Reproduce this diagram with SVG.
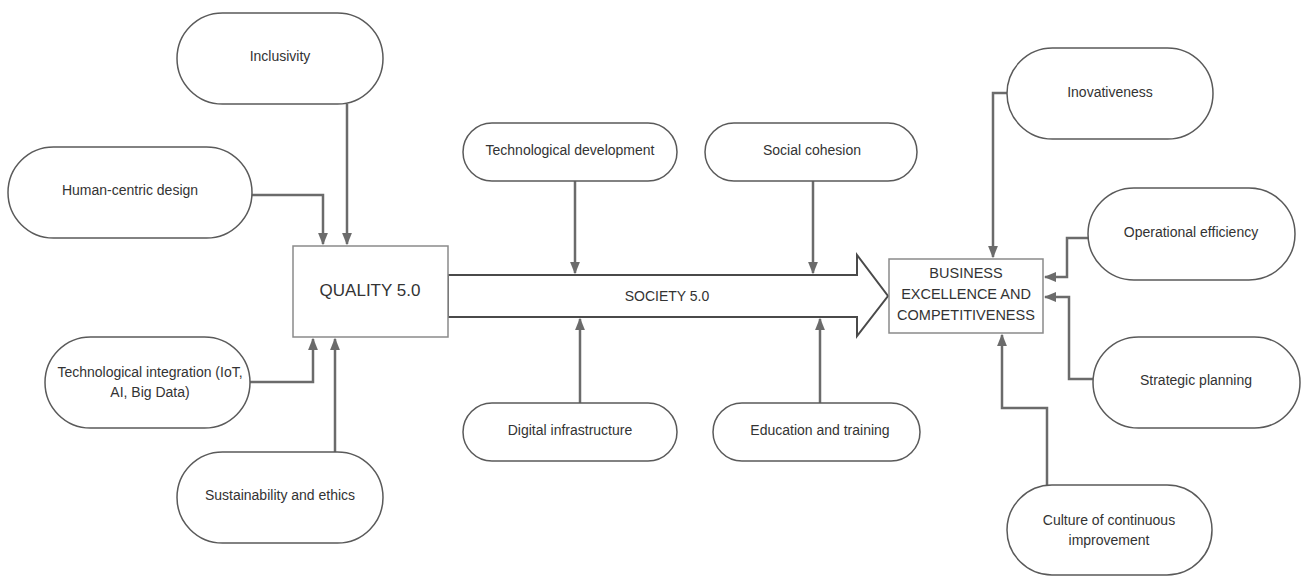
<svg xmlns="http://www.w3.org/2000/svg" width="1307" height="576" viewBox="0 0 1307 576">
<defs>
<style>
.node{fill:#fff;stroke:#5a5a5a;stroke-width:1.5}
.box{fill:#fff;stroke:#8a8a8a;stroke-width:1.5}
.t{font-family:"Liberation Sans",Arial,sans-serif;font-size:14px;fill:#333;text-anchor:middle;dominant-baseline:central}
.conn{fill:none;stroke:#6b6b6b;stroke-width:2.5}
</style>
<marker id="ah" viewBox="0 0 10 10" refX="9" refY="5" markerWidth="5" markerHeight="5" orient="auto" markerUnits="strokeWidth">
<path d="M0,1 L10,5 L0,9 Z" fill="#6b6b6b"/>
</marker>
</defs>
<rect width="1307" height="576" fill="#fff"/>

<g id="society">
<path d="M448,275 L857,275 L857,255 L888,296 L857,336 L857,317 L448,317 Z" fill="#fff" stroke="#4a4a4a" stroke-width="2"/>
<text class="t" x="667" y="296">SOCIETY 5.0</text>
</g>

<g id="connectors">
<path class="conn" d="M252,195 L323,195 L323,244" marker-end="url(#ah)"/>
<path class="conn" d="M347,104 L347,244" marker-end="url(#ah)"/>
<path class="conn" d="M250,382 L313,382 L313,339" marker-end="url(#ah)"/>
<path class="conn" d="M335,452 L335,339" marker-end="url(#ah)"/>
<path class="conn" d="M575,181 L575,273" marker-end="url(#ah)"/>
<path class="conn" d="M813,181 L813,273" marker-end="url(#ah)"/>
<path class="conn" d="M580,403 L580,319" marker-end="url(#ah)"/>
<path class="conn" d="M820,403 L820,319" marker-end="url(#ah)"/>
<path class="conn" d="M1007,93 L993,93 L993,257" marker-end="url(#ah)"/>
<path class="conn" d="M1088,238 L1067,238 L1067,277 L1045,277" marker-end="url(#ah)"/>
<path class="conn" d="M1093,379 L1069,379 L1069,297 L1045,297" marker-end="url(#ah)"/>
<path class="conn" d="M1047,485 L1047,408 L1002,408 L1002,335" marker-end="url(#ah)"/>
</g>

<g id="quality">
<rect class="box" x="293" y="246" width="155" height="91"/>
<text class="t" x="370" y="290" style="font-size:17px">QUALITY 5.0</text>
</g>

<g id="business">
<rect class="box" x="889" y="259" width="154" height="74"/>
<text class="t" x="966" y="273" style="font-size:14.5px">BUSINESS</text>
<text class="t" x="966" y="294" style="font-size:14.5px">EXCELLENCE AND</text>
<text class="t" x="966" y="315" style="font-size:14.5px">COMPETITIVENESS</text>
</g>

<g id="inclusivity">
<rect class="node" x="177" y="13" width="206" height="91" rx="45.5"/>
<text class="t" x="280" y="56">Inclusivity</text>
</g>
<g id="human-centric">
<rect class="node" x="8" y="147" width="244" height="91" rx="45.5"/>
<text class="t" x="130" y="190">Human-centric design</text>
</g>
<g id="tech-integration">
<rect class="node" x="45" y="337" width="205" height="91" rx="45.5"/>
<text class="t" x="150" y="372">Technological integration (IoT,</text>
<text class="t" x="150" y="392">AI, Big Data)</text>
</g>
<g id="sustainability">
<rect class="node" x="177" y="452" width="206" height="91" rx="45.5"/>
<text class="t" x="280" y="495">Sustainability and ethics</text>
</g>
<g id="tech-development">
<rect class="node" x="463" y="123" width="214" height="58" rx="29"/>
<text class="t" x="570" y="150">Technological development</text>
</g>
<g id="social-cohesion">
<rect class="node" x="705" y="123" width="212" height="58" rx="29"/>
<text class="t" x="812" y="150">Social cohesion</text>
</g>
<g id="digital-infrastructure">
<rect class="node" x="463" y="403" width="214" height="58" rx="29"/>
<text class="t" x="570" y="430">Digital infrastructure</text>
</g>
<g id="education">
<rect class="node" x="713" y="403" width="207" height="58" rx="29"/>
<text class="t" x="820" y="430">Education and training</text>
</g>
<g id="inovativeness">
<rect class="node" x="1007" y="48" width="206" height="91" rx="45.5"/>
<text class="t" x="1110" y="92">Inovativeness</text>
</g>
<g id="operational">
<rect class="node" x="1088" y="188" width="207" height="92" rx="46"/>
<text class="t" x="1191" y="232">Operational efficiency</text>
</g>
<g id="strategic">
<rect class="node" x="1093" y="337" width="207" height="91" rx="45.5"/>
<text class="t" x="1196" y="380">Strategic planning</text>
</g>
<g id="culture">
<rect class="node" x="1007" y="485" width="205" height="90" rx="45"/>
<text class="t" x="1109" y="520">Culture of continuous</text>
<text class="t" x="1109" y="540">improvement</text>
</g>
</svg>
